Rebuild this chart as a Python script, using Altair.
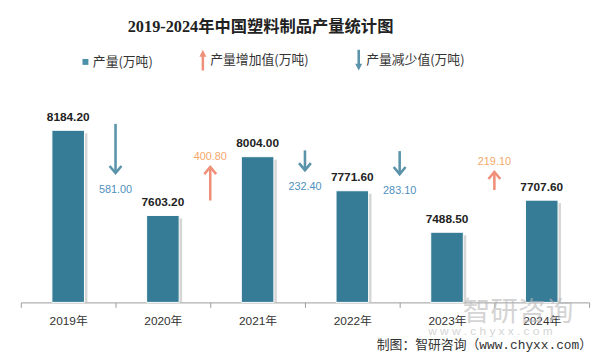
import altair as alt
import pandas as pd

# ---------------- data ----------------
years = ["2019年", "2020年", "2021年", "2022年", "2023年", "2024年"]
output = [8184.20, 7603.20, 8004.00, 7771.60, 7488.50, 7707.60]

change_to = ["2020年", "2021年", "2022年", "2023年", "2024年"]
change_vals = [581.00, 400.80, 232.40, 283.10, 219.10]
change_dir = ["down", "up", "down", "down", "up"]
arrow_tail = [8228, 7705, 8047, 8042, 7777]
arrow_head = [7892, 7934, 7912, 7885, 7900]

legend_names = ["产量(万吨)", "产量增加值(万吨)", "产量减少值(万吨)"]

title_text = "2019-2024年中国塑料制品产量统计图"
source_text = "制图：智研咨询（www.chyxx.com）"
wm_text1 = "智研咨询"
wm_text2 = "w w w . c h y x x . c o m"

# ---------------- styles ----------------
BAR = "#367C96"
UP = "#F0907A"
DOWN = "#5A93AA"
UP_LABEL = "#F5A86A"
DOWN_LABEL = "#4F90BE"
LEG_SQ = "#4A90A8"
Y0, Y1 = 7010, 8410
SANS = "Liberation Sans, Noto Sans CJK SC"
CJK = "Noto Sans CJK SC"

df_bars = pd.DataFrame({"year": years, "output": output})
df_chg = pd.DataFrame({"to": change_to, "change": change_vals, "dir": change_dir,
                       "tail": arrow_tail, "head": arrow_head})
df_up = df_chg[df_chg["dir"] == "up"]
df_down = df_chg[df_chg["dir"] == "down"]
df_leg = pd.DataFrame({"series": legend_names})

xscale = alt.Scale(domain=years, paddingInner=0, paddingOuter=0)
yscale = alt.Scale(domain=[Y0, Y1], nice=False, zero=False)

x_axis = alt.Axis(title=None, labelAngle=0, tickBand="extent", domainColor="#9a9a9a",
                  tickColor="#9a9a9a", tickSize=5, labelPadding=8, labelFont=SANS,
                  labelFontSize=12, labelColor="#333333", grid=False)

X = alt.X("year:N", sort=years, scale=xscale, axis=x_axis)
Xb = alt.X("to:N", sort=years, scale=xscale, axis=x_axis, bandPosition=0)

shadow = alt.Chart(df_bars).mark_bar(size=33, color="#c4c4c4", opacity=0.7,
                                     xOffset=3, yOffset=3).encode(
    x=X,
    y=alt.Y("output:Q", scale=yscale, axis=None),
    y2=alt.datum(Y0),
)

bars = alt.Chart(df_bars).mark_bar(size=33, color=BAR, stroke="white", strokeWidth=1).encode(
    x=X,
    y=alt.Y("output:Q", scale=yscale, axis=None),
    y2=alt.datum(Y0),
)

bar_labels = alt.Chart(df_bars).mark_text(font="Liberation Sans", fontSize=12, fontWeight="bold",
                                          color="#222222", dy=-13.5, baseline="middle").encode(
    x=X,
    y=alt.Y("output:Q", scale=yscale, axis=None),
    text=alt.Text("output:Q", format=".2f"),
)

up_path_head = "M-1,1.2L0,0L1,1.2"
down_path_head = "M-1,-1.2L0,0L1,-1.2"


def arrow_layers(df, color, label_color, head_path, label_dy):
    shaft = alt.Chart(df).mark_rule(color=color, strokeWidth=2.6).encode(
        x=Xb, y=alt.Y("tail:Q", scale=yscale, axis=None), y2="head:Q")
    head = alt.Chart(df).mark_point(shape=head_path, filled=False, color=color,
                                    strokeWidth=2.6, size=144, opacity=1).encode(
        x=Xb, y=alt.Y("head:Q", scale=yscale, axis=None))
    lab = alt.Chart(df).mark_text(font="Liberation Sans", fontSize=11, color=label_color,
                                  dy=label_dy, baseline="middle").encode(
        x=Xb, y=alt.Y("head:Q", scale=yscale, axis=None),
        text=alt.Text("change:Q", format=".2f"))
    return [shaft, head, lab]


up_layers = arrow_layers(df_up, UP, UP_LABEL, up_path_head, -10)
down_layers = arrow_layers(df_down, DOWN, DOWN_LABEL, down_path_head, 17)

sq = "M-0.4,-0.4L0.4,-0.4L0.4,0.4L-0.4,0.4Z"
up_arrow = "M0,-1.4L0.47,-0.47L0.17,-0.47L0.17,1.4L-0.17,1.4L-0.17,-0.47L-0.47,-0.47Z"
down_arrow = "M0,1.4L0.47,0.47L0.17,0.47L0.17,-1.4L-0.17,-1.4L-0.17,0.47L-0.47,0.47Z"

leg_props = dict(title=None, orient="none", legendX=58, legendY=-45, direction="horizontal",
                 symbolSize=225, symbolOpacity=1, symbolStrokeWidth=0, labelFont=CJK,
                 labelFontSize=13, labelColor="#333333", labelOffset=0, columnPadding=43)

legend_layer = alt.Chart(df_leg).mark_point(filled=True, opacity=0).encode(
    color=alt.Color("series:N", scale=alt.Scale(domain=legend_names, range=[LEG_SQ, UP, DOWN]),
                    legend=alt.Legend(**leg_props)),
    shape=alt.Shape("series:N", scale=alt.Scale(domain=legend_names, range=[sq, up_arrow, down_arrow]),
                    legend=alt.Legend(**leg_props)),
)

title_layer = alt.Chart(pd.DataFrame({"t": [title_text]})).mark_text(
    font="Liberation Serif, Noto Sans CJK SC", fontSize=16.5, fontWeight="bold", color="#222222",
    align="center", baseline="middle").encode(x=alt.value(243), y=alt.value(-71), text="t:N")

source_layer = alt.Chart(pd.DataFrame({"t": [source_text]})).mark_text(
    font="Liberation Mono, Noto Sans CJK SC", fontSize=13, color="#333333",
    align="right", baseline="middle").encode(x=alt.value(579), y=alt.value(251), text="t:N")

wm1 = alt.Chart(pd.DataFrame({"t": [wm_text1]})).mark_text(
    font=CJK, fontSize=28, color="#b8b8b8", opacity=0.6, align="left", baseline="middle").encode(
    x=alt.value(448), y=alt.value(219), text="t:N")
wm2 = alt.Chart(pd.DataFrame({"t": [wm_text2]})).mark_text(
    font="Liberation Sans", fontSize=12, color="#b8b8b8", opacity=0.6, align="left",
    baseline="middle").encode(x=alt.value(413), y=alt.value(237), text="t:N")

chart = alt.layer(
    shadow, bars, bar_labels, *up_layers, *down_layers, legend_layer,
    title_layer, source_layer, wm1, wm2,
).properties(
    width=576, height=208,
    autosize=alt.AutoSizeParams(type="none"),
    padding={"left": 13, "top": 88, "right": 7, "bottom": 57},
    background="white",
).configure_view(stroke=None)

chart.save("out.html", embed_options={"renderer": "svg", "actions": False})
